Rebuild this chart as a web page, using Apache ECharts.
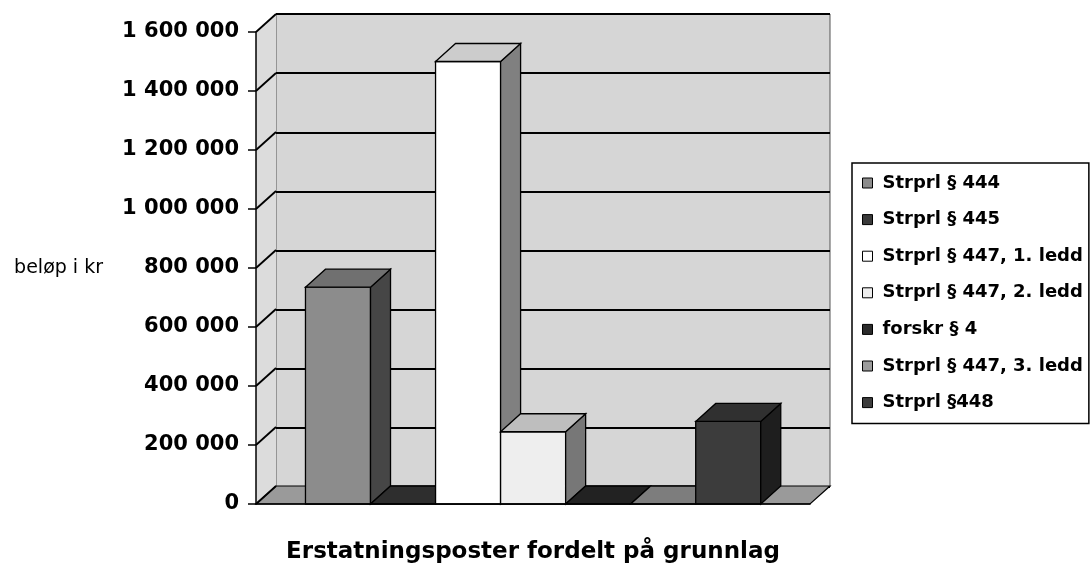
<!DOCTYPE html>
<html>
<head>
<meta charset="utf-8">
<title>Erstatningsposter fordelt på grunnlag</title>
<script src="https://cdn.jsdelivr.net/npm/echarts@6/dist/echarts.min.js"></script>
<style>
  html, body { margin: 0; padding: 0; background: #fff; }
  #chart { width: 1092px; height: 569px; }
</style>
</head>
<body>
<div id="chart"></div>
<script>
// data (one category, seven series)
const category = ['Erstatningsposter fordelt på grunnlag']
const seriesNames = ['Strprl § 444', 'Strprl § 445', 'Strprl § 447, 1. ledd', 'Strprl § 447, 2. ledd', 'forskr § 4', 'Strprl § 447, 3. ledd', 'Strprl §448']
const amounts = [735000, 0, 1500000, 245000, 0, 0, 280000]
const yTicks = [0, 200000, 400000, 600000, 800000, 1000000, 1200000, 1400000, 1600000]

const fills = ['#8c8c8c', '#3a3a3a', '#ffffff', '#eeeeee', '#2b2b2b', '#9c9c9c', '#3c3c3c']
const FONT = 'DejaVu Sans'
// pseudo 3d depth offset (px)
const DX = 20
const DY = -18
// bar layout inside the category band
const GAP = 0.0893
const BARW = 0.1174

function shade(hex, k) {
  const n = parseInt(hex.slice(1), 16)
  const r = Math.round(((n >> 16) & 255) * k)
  const g = Math.round(((n >> 8) & 255) * k)
  const b = Math.round((n & 255) * k)
  return 'rgb(' + r + ',' + g + ',' + b + ')'
}

function fmt(v) {
  return String(v).replace(/\B(?=(\d{3})+(?!\d))/g, ' ')
}

const chart = echarts.init(document.getElementById('chart'))

// walls, floor and the slanted gridline connectors
const frameSeries = {
  type: 'custom',
  name: 'frame',
  xAxisIndex: 0,
  yAxisIndex: 0,
  silent: true,
  z: 1,
  data: yTicks.map(v => [0, v]),
  renderItem(params, api) {
    const v = api.value(1)
    const B = api.size([1, 0])[0]
    const p = api.coord([0, v])
    const xL = p[0] - B / 2
    const xR = p[0] + B / 2
    const children = []
    if (params.dataIndex === 0) {
      const yTop = api.coord([0, yTicks[yTicks.length - 1]])[1]
      const y0 = p[1]
      children.push({
        type: 'polygon',
        shape: { points: [[xL, y0], [xL, yTop], [xL + DX, yTop + DY], [xL + DX, y0 + DY]] },
        style: { fill: '#dcdcdc', stroke: null }
      })
      children.push({
        type: 'polygon',
        shape: { points: [[xL, y0], [xR, y0], [xR + DX, y0 + DY], [xL + DX, y0 + DY]] },
        style: { fill: '#9a9a9a', stroke: '#000', lineWidth: 1.2 }
      })
    }
    children.push({
      type: 'line',
      shape: { x1: xL, y1: p[1], x2: xL + DX, y2: p[1] + DY },
      style: { stroke: '#000', lineWidth: 1.8 }
    })
    return { type: 'group', children: children }
  }
}

const barSeries = seriesNames.map((name, i) => {
  return {
    type: 'custom',
    name: name,
    xAxisIndex: 0,
    yAxisIndex: 0,
    z: 2,
    itemStyle: { color: fills[i], borderColor: '#000', borderWidth: 1 },
    data: [[0, amounts[i]]],
    renderItem(params, api) {
      const B = api.size([1, 0])[0]
      const c = api.coord([0, api.value(1)])
      const base = api.coord([0, 0])
      const x0 = c[0] - B / 2 + B * GAP + i * B * BARW
      const x1 = x0 + B * BARW
      const yv = c[1]
      const y0 = base[1]
      const children = []
      if (y0 - yv > 0.5) {
        children.push({
          type: 'rect',
          shape: { x: x0, y: yv, width: x1 - x0, height: y0 - yv },
          style: { fill: fills[i], stroke: '#000', lineWidth: 1.3 }
        })
        children.push({
          type: 'polygon',
          shape: { points: [[x1, yv], [x1 + DX, yv + DY], [x1 + DX, y0 + DY], [x1, y0]] },
          style: { fill: shade(fills[i], 0.5), stroke: '#000', lineWidth: 1.3 }
        })
      }
      children.push({
        type: 'polygon',
        shape: { points: [[x0, yv], [x0 + DX, yv + DY], [x1 + DX, yv + DY], [x1, yv]] },
        style: { fill: shade(fills[i], 0.8), stroke: '#000', lineWidth: 1.3 }
      })
      return { type: 'group', children: children }
    }
  }
})

chart.setOption({
  backgroundColor: '#fff',
  animation: false,
  textStyle: { fontFamily: FONT },
  legend: {
    data: seriesNames,
    icon: 'rect',
    orient: 'vertical',
    left: 852,
    top: 163,
    padding: [11, 6, 12, 10],
    itemGap: 18.6,
    itemWidth: 10,
    itemHeight: 10,
    borderColor: '#000',
    borderWidth: 1.5,
    itemStyle: { borderColor: '#000', borderWidth: 1 },
    textStyle: { fontFamily: FONT, fontWeight: 'bold', fontSize: 18, lineHeight: 18, color: '#000', padding: [0, 0, 0, 5] }
  },
  grid: [
    // front plane (axes)
    { left: 256, right: 282, top: 32, bottom: 64 },
    // back wall
    { left: 276, right: 262, top: 14, bottom: 82, show: true, backgroundColor: '#d6d6d6', borderColor: '#555', borderWidth: 1 }
  ],
  xAxis: [{
    type: 'category',
    gridIndex: 0,
    data: category,
    z: 10,
    name: category[0],
    nameLocation: 'middle',
    nameGap: 37,
    nameTextStyle: { fontFamily: FONT, fontWeight: 'bold', fontSize: 23, color: '#000' },
    axisLine: { lineStyle: { color: '#000', width: 1.5 } },
    axisTick: { length: 8, lineStyle: { color: '#000', width: 1.5 } },
    axisLabel: { show: false }
  }, {
    type: 'category',
    gridIndex: 1,
    data: category,
    show: false
  }],
  yAxis: [{
    type: 'value',
    gridIndex: 0,
    min: 0,
    max: 1600000,
    interval: 200000,
    z: 10,
    name: 'beløp i kr',
    nameLocation: 'middle',
    nameRotate: 0,
    nameGap: 153,
    nameTextStyle: { fontFamily: FONT, fontSize: 19, color: '#000' },
    axisLine: { show: true, lineStyle: { color: '#000', width: 1.5 } },
    axisTick: { show: true, length: 8, lineStyle: { color: '#000', width: 1.5 } },
    axisLabel: { formatter: fmt, fontFamily: FONT, fontWeight: 'bold', fontSize: 21, color: '#000', margin: 17 },
    splitLine: { show: false }
  }, {
    type: 'value',
    gridIndex: 1,
    min: 0,
    max: 1600000,
    interval: 200000,
    axisLine: { show: false },
    axisTick: { show: false },
    axisLabel: { show: false },
    splitLine: { show: true, lineStyle: { color: '#000', width: 1.8 } }
  }],
  series: [frameSeries].concat(barSeries)
})
</script>
</body>
</html>
